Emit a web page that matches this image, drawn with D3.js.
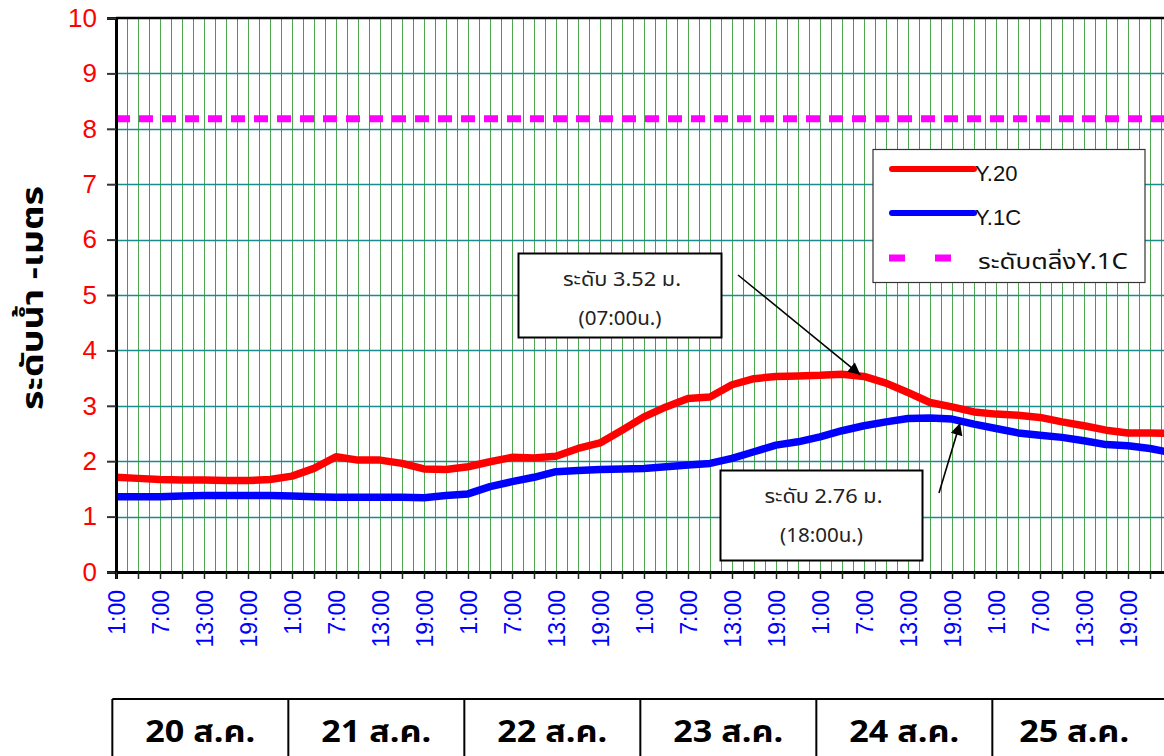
<!DOCTYPE html>
<html>
<head>
<meta charset="utf-8">
<script src="https://cdn.jsdelivr.net/npm/d3@7/dist/d3.min.js"></script>
<style>
  html, body { margin: 0; padding: 0; background: #fff; }
  svg { display: block; }
</style>
</head>
<body>
<svg id="chart" width="1164" height="756"></svg>
<script>
// ---------- data ----------
// hours since 20 Aug 01:00 (3-hourly readings)
const hours = [0,3,6,9,12,15,18,21,24,27,30,33,36,39,42,45,48,51,54,57,60,63,66,69,72,75,78,81,84,87,90,93,96,99,102,105,108,111,114,117,120,123,126,129,132,135,138,141,144];
const y20 = [1.71,1.69,1.67,1.66,1.66,1.65,1.65,1.67,1.73,1.87,2.08,2.02,2.02,1.96,1.86,1.85,1.90,1.99,2.07,2.06,2.09,2.23,2.33,2.56,2.80,2.98,3.13,3.16,3.38,3.49,3.53,3.54,3.55,3.57,3.53,3.41,3.24,3.06,2.98,2.89,2.85,2.83,2.79,2.71,2.64,2.56,2.51,2.51,2.50];
const y1c = [1.36,1.36,1.36,1.37,1.38,1.38,1.38,1.38,1.37,1.36,1.35,1.35,1.35,1.35,1.34,1.38,1.41,1.54,1.63,1.71,1.81,1.83,1.85,1.86,1.87,1.90,1.93,1.96,2.05,2.17,2.29,2.35,2.44,2.55,2.64,2.71,2.77,2.78,2.76,2.67,2.59,2.51,2.47,2.43,2.37,2.30,2.28,2.23,2.15];
const bankLevel = 8.18;
const timeLabels = ["1:00","7:00","13:00","19:00"];
const dayLabels = ["20 ส.ค.","21 ส.ค.","22 ส.ค.","23 ส.ค.","24 ส.ค.","25 ส.ค."];
const yTicks = [0,1,2,3,4,5,6,7,8,9,10];
const seriesNames = ["Y.20","Y.1C","ระดับตลิ่งY.1C"];
const notes = [
  {line1:"ระดับ 3.52 ม.", line2:"(07:00น.)", hour:101.5, value:3.56},
  {line1:"ระดับ 2.76 ม.", line2:"(18:00น.)", hour:115.1, value:2.69}
];

// ---------- layout ----------
const L = 116, T = 18, B = 572, R = 1172;
const svg = d3.select("#chart");
const x = d3.scaleLinear().domain([0,144]).range([L, R]);
const y = d3.scaleLinear().domain([0,10]).range([B, T]);
const thai = "Tahoma, 'Noto Sans Thai', 'Noto Sans', 'DejaVu Sans', sans-serif";
const arial = "Arial, 'Liberation Sans', sans-serif";

const defs = svg.append("defs");
defs.append("clipPath").attr("id","clip")
  .append("rect").attr("x",L).attr("y",T).attr("width",R-L).attr("height",B-T);

const grid = svg.append("g");
// vertical gridlines every 1.5 h
const vg = d3.range(1.5, 144, 1.5);
grid.selectAll("line.v").data(vg).enter().append("line")
  .attr("x1", d => Math.round(x(d))+0.5).attr("x2", d => Math.round(x(d))+0.5)
  .attr("y1", T).attr("y2", B)
  .attr("stroke", d => (d % 3 === 0) ? "#2f962f" : "#158f8f")
  .attr("stroke-opacity", d => (d % 3 === 0) ? 0.85 : 0.9)
  .attr("stroke-width", 1);
// horizontal gridlines
grid.selectAll("line.h").data(yTicks.filter(d => d>0 && d<10)).enter().append("line")
  .attr("x1", L).attr("x2", 1164)
  .attr("y1", d => Math.round(y(d))+0.5).attr("y2", d => Math.round(y(d))+0.5)
  .attr("stroke", "#1a8c8c").attr("stroke-width", 1.3);

// bank level dashed line
svg.append("line")
  .attr("x1", L).attr("x2", R).attr("y1", y(bankLevel)).attr("y2", y(bankLevel))
  .attr("stroke", "#ff00ff").attr("stroke-width", 7).attr("stroke-dasharray", "14,9");

// series
const line = (vals) => d3.line().x((d,i) => x(hours[i])).y(d => y(d))(vals);
const plot = svg.append("g").attr("clip-path","url(#clip)");
plot.append("path").attr("d", line(y20)).attr("fill","none")
  .attr("stroke","#ff0000").attr("stroke-width",7.5).attr("stroke-linejoin","round");
plot.append("path").attr("d", line(y1c)).attr("fill","none")
  .attr("stroke","#0000ff").attr("stroke-width",7.5).attr("stroke-linejoin","round");

// frame: top border
svg.append("line").attr("x1", L).attr("x2", 1164).attr("y1", T).attr("y2", T)
  .attr("stroke","#000").attr("stroke-width",2.5);

// y axis
const yAxis = d3.axisLeft(y).tickValues(yTicks).tickSize(9).tickPadding(10).tickFormat(d3.format("d"));
const ya = svg.append("g").attr("transform",`translate(${L},0)`).call(yAxis);
ya.select(".domain").attr("stroke","#000").attr("stroke-width",3);
ya.selectAll(".tick line").attr("stroke","#333").attr("stroke-width",2);
ya.selectAll(".tick text").attr("fill","#ff0000").style("font-family",arial).style("font-size","26px");

// x axis
const xTickVals = d3.range(0, 145, 3);
const xAxis = d3.axisBottom(x).tickValues(xTickVals).tickSize(7).tickFormat("");
const xa = svg.append("g").attr("transform",`translate(0,${B})`).call(xAxis);
xa.select(".domain").attr("stroke","#000").attr("stroke-width",3);
xa.selectAll(".tick line").attr("stroke","#222").attr("stroke-width",1.5);
const labelHours = d3.range(0, 144, 6);
svg.append("g").selectAll("text").data(labelHours).enter().append("text")
  .attr("transform", d => `translate(${x(d)+9},590) rotate(-90)`)
  .attr("text-anchor","end")
  .attr("fill","#0000ff").style("font-family",arial).style("font-size","23px")
  .text((d,i) => timeLabels[i % 4]);

// y title
svg.append("text")
  .attr("transform","translate(43,298) rotate(-90)")
  .attr("text-anchor","middle")
  .attr("textLength",224).attr("lengthAdjust","spacingAndGlyphs")
  .style("font-family",thai).style("font-size","30px").style("font-weight","bold")
  .text("ระดับน้ำ -เมตร");

// legend
const lg = svg.append("g");
lg.append("rect").attr("x",873).attr("y",149.5).attr("width",272).attr("height",133)
  .attr("fill","#fff").attr("stroke","#333").attr("stroke-width",1.2);
lg.append("line").attr("x1",892).attr("x2",974).attr("y1",169).attr("y2",169)
  .attr("stroke","#ff0000").attr("stroke-width",6).attr("stroke-linecap","round");
lg.append("line").attr("x1",892).attr("x2",974).attr("y1",213).attr("y2",213)
  .attr("stroke","#0000ff").attr("stroke-width",6).attr("stroke-linecap","round");
lg.append("line").attr("x1",889).attr("x2",952).attr("y1",258).attr("y2",258)
  .attr("stroke","#ff00ff").attr("stroke-width",7).attr("stroke-dasharray","16,30");
lg.selectAll("text").data(seriesNames).enter().append("text")
  .attr("x", (d,i) => i<2 ? 975 : 978)
  .attr("y", (d,i) => [181,225,269][i])
  .attr("textLength", (d,i) => i<2 ? null : 150)
  .attr("lengthAdjust","spacingAndGlyphs")
  .style("font-family", (d,i) => i<2 ? arial : thai)
  .style("font-size", (d,i) => i<2 ? "22px" : "21px").attr("fill","#111")
  .text(d => d);

// annotations
const boxes = [
  {x:518.5, y:253.5, w:203, h:84, from:[738,275]},
  {x:720.5, y:470.5, w:202, h:90, from:[939,493]}
];
defs.append("marker").attr("id","arr").attr("viewBox","0 0 10 10")
  .attr("refX",10).attr("refY",5).attr("markerWidth",16).attr("markerHeight",12)
  .attr("markerUnits","userSpaceOnUse").attr("orient","auto")
  .append("path").attr("d","M0,0L10,5L0,10Z").attr("fill","#000");

notes.forEach((n,i) => {
  const b = boxes[i];
  svg.append("rect").attr("x",b.x).attr("y",b.y).attr("width",b.w).attr("height",b.h)
    .attr("fill","#fff").attr("stroke","#000").attr("stroke-width",2);
  svg.append("text").attr("x", b.x+b.w/2+2).attr("y", b.y+32)
    .attr("text-anchor","middle").attr("textLength",118).attr("lengthAdjust","spacingAndGlyphs")
    .style("font-family",thai).style("font-size","20px").attr("fill","#222")
    .text(n.line1);
  svg.append("text").attr("x", b.x+b.w/2).attr("y", b.y+71)
    .attr("text-anchor","middle").attr("textLength",83).attr("lengthAdjust","spacingAndGlyphs")
    .style("font-family",thai).style("font-size","20px").attr("fill","#222")
    .text(n.line2);
  svg.append("line").attr("x1", b.from[0]).attr("y1", b.from[1])
    .attr("x2", x(n.hour)).attr("y2", y(n.value))
    .attr("stroke","#000").attr("stroke-width",1.6).attr("marker-end","url(#arr)");
});

// day table
const tb = svg.append("g");
const tTop = 699;
dayLabels.forEach((d,i) => {
  const x0 = x(-0.5 + 24*i), x1 = x(-0.5 + 24*(i+1));
  tb.append("line").attr("x1",x0).attr("x2",x0).attr("y1",tTop).attr("y2",756)
    .attr("stroke","#000").attr("stroke-width",2);
  tb.append("text").attr("x",(x0+Math.min(x1,1164))/2 + (i===5?-4:0)).attr("y",742)
    .attr("text-anchor","middle").attr("textLength",110).attr("lengthAdjust","spacingAndGlyphs")
    .style("font-family",thai).style("font-size","30px").style("font-weight","bold")
    .attr("fill","#000").text(d);
});
tb.append("line").attr("x1",x(-0.5)).attr("x2",1164).attr("y1",tTop).attr("y2",tTop)
  .attr("stroke","#000").attr("stroke-width",2);
</script>
</body>
</html>
